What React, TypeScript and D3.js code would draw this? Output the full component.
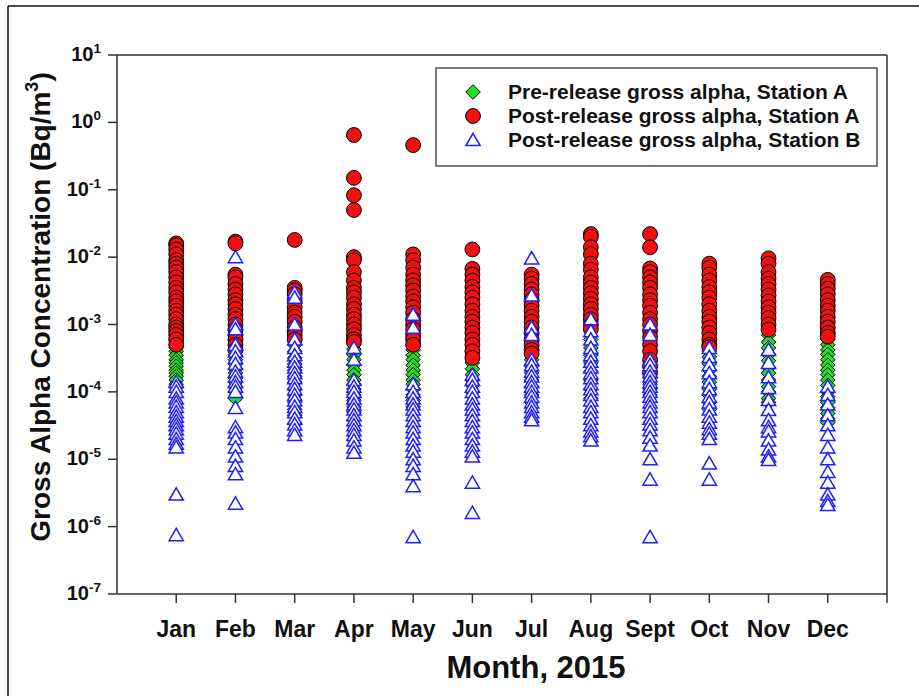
import React from "react";
import * as d3 from "d3";

const months = ["Jan", "Feb", "Mar", "Apr", "May", "Jun", "Jul", "Aug", "Sept", "Oct", "Nov", "Dec"];
const yTickExponents = [1, 0, -1, -2, -3, -4, -5, -6, -7];

// Pre-release gross alpha, Station A (Bq/m3), per month
const preReleaseA: number[][] = [
  [8e-4, 7e-4, 6e-4, 5e-4, 4.5e-4, 4e-4, 3.5e-4, 3e-4, 2.7e-4, 2.4e-4, 2.1e-4, 1.9e-4, 1.7e-4, 1.5e-4, 1.3e-4, 1.2e-4],
  [6e-4, 5e-4, 4.2e-4, 3.5e-4, 3e-4, 2.6e-4, 2.2e-4, 1.9e-4, 1.6e-4, 1.4e-4, 1.2e-4, 1e-4, 8e-5],
  [6e-4, 5e-4, 4e-4, 3.2e-4, 2.6e-4, 2.1e-4, 1.7e-4, 1.4e-4, 1.1e-4, 9e-5, 7e-5, 5.5e-5, 4.5e-5, 3.4e-5],
  [5e-4, 4.3e-4, 3.6e-4, 3e-4, 2.5e-4, 2.1e-4, 1.8e-4, 1.5e-4, 1.3e-4, 1.1e-4, 9e-5, 7.5e-5, 6e-5, 5e-5],
  [6e-4, 5e-4, 4.2e-4, 3.5e-4, 3e-4, 2.5e-4, 2.1e-4, 1.8e-4, 1.5e-4, 1.3e-4, 1.1e-4, 9e-5, 7.5e-5, 6e-5],
  [5e-4, 4e-4, 3.3e-4, 2.7e-4, 2.2e-4, 1.8e-4, 1.5e-4, 1.25e-4, 1e-4],
  [3e-4, 2.4e-4, 1.9e-4, 1.5e-4, 1.2e-4, 9e-5, 7e-5],
  [6e-4, 4.5e-4, 3.5e-4, 2.7e-4, 2e-4, 1.5e-4, 1.1e-4, 8e-5],
  [2.8e-4, 2.3e-4, 1.9e-4, 1.6e-4, 1.3e-4, 1.1e-4, 9e-5],
  [4e-4, 3.3e-4, 2.6e-4, 2.1e-4, 1.7e-4, 1.4e-4, 1.1e-4, 9e-5, 7e-5, 5.5e-5],
  [7e-4, 5.5e-4, 4.5e-4, 3.6e-4, 2.9e-4, 2.3e-4, 1.9e-4, 1.5e-4, 1.2e-4, 1e-4, 8e-5, 7e-5],
  [7e-4, 6e-4, 5e-4, 4.2e-4, 3.6e-4, 3e-4, 2.5e-4, 2.1e-4, 1.8e-4, 1.5e-4, 1.25e-4, 1e-4, 8.5e-5, 7e-5, 5.8e-5, 4.8e-5, 4e-5, 3.5e-5],
];

// Post-release gross alpha, Station A
const postReleaseA: number[][] = [
  [1.6e-2, 1.5e-2, 1.3e-2, 1.1e-2, 9e-3, 8e-3, 7e-3, 6e-3, 5e-3, 4.2e-3, 3.5e-3, 3e-3, 2.5e-3, 2.2e-3, 1.9e-3, 1.6e-3, 1.4e-3, 1.2e-3, 1e-3, 9e-4, 8e-4, 7e-4, 6e-4, 5e-4],
  [1.7e-2, 1.6e-2, 5.5e-3, 5e-3, 4e-3, 3.3e-3, 2.8e-3, 2.3e-3, 2e-3, 1.7e-3, 1.4e-3, 1.2e-3, 1e-3, 8.5e-4, 7e-4, 6e-4, 5e-4, 4.2e-4],
  [1.8e-2, 3.5e-3, 3.2e-3, 2.8e-3, 2.2e-3, 1.8e-3, 1.5e-3, 1.3e-3, 1.1e-3, 9e-4, 8e-4, 7e-4, 6e-4],
  [0.65, 0.15, 0.083, 0.05, 1e-2, 9e-3, 6e-3, 4.5e-3, 3.5e-3, 3e-3, 2.5e-3, 2e-3, 1.7e-3, 1.4e-3, 1.2e-3, 1e-3, 8.5e-4, 7e-4, 6e-4, 5.5e-4],
  [0.46, 1.1e-2, 9e-3, 7e-3, 5.5e-3, 4.5e-3, 3.8e-3, 3.2e-3, 2.6e-3, 2.2e-3, 1.8e-3, 1.5e-3, 1.2e-3, 1e-3, 8.5e-4, 7e-4, 6e-4, 5e-4],
  [1.3e-2, 6.7e-3, 5.5e-3, 4.5e-3, 3.6e-3, 3e-3, 2.5e-3, 2e-3, 1.6e-3, 1.3e-3, 1.1e-3, 9e-4, 7.5e-4, 6e-4, 5e-4, 4e-4, 3.2e-4],
  [5.5e-3, 4.8e-3, 4e-3, 3.3e-3, 2.8e-3, 2.3e-3, 1.9e-3, 1.6e-3, 1.3e-3, 1.1e-3, 9e-4, 7.5e-4, 6e-4, 5e-4, 4.2e-4, 3.7e-4],
  [2.2e-2, 2e-2, 1.4e-2, 1.1e-2, 8e-3, 6.5e-3, 5e-3, 4.2e-3, 3.5e-3, 2.9e-3, 2.4e-3, 2e-3, 1.7e-3, 1.4e-3, 1.2e-3, 1e-3, 8.5e-4],
  [2.2e-2, 1.4e-2, 6.8e-3, 6e-3, 5e-3, 4.2e-3, 3.5e-3, 2.8e-3, 2.3e-3, 1.9e-3, 1.5e-3, 1.2e-3, 1e-3, 8e-4, 6.5e-4, 5e-4, 4e-4, 3e-4, 2.4e-4, 1.9e-4],
  [8e-3, 7e-3, 5.5e-3, 4.5e-3, 3.6e-3, 3e-3, 2.5e-3, 2e-3, 1.6e-3, 1.3e-3, 1.1e-3, 9e-4, 7.5e-4, 6e-4, 5e-4, 4.6e-4],
  [9.6e-3, 8e-3, 6e-3, 4.8e-3, 4e-3, 3.3e-3, 2.7e-3, 2.2e-3, 1.8e-3, 1.5e-3, 1.25e-3, 1e-3, 8.4e-4],
  [4.6e-3, 4e-3, 3.4e-3, 2.8e-3, 2.3e-3, 1.9e-3, 1.6e-3, 1.3e-3, 1.1e-3, 9e-4, 7.5e-4, 6.6e-4],
];

// Post-release gross alpha, Station B
const postReleaseB: number[][] = [
  [1.4e-4, 1.2e-4, 1e-4, 8e-5, 7e-5, 6e-5, 5e-5, 4.3e-5, 3.7e-5, 3.2e-5, 2.8e-5, 2.4e-5, 2e-5, 1.7e-5, 1.5e-5, 3e-6, 7.5e-7],
  [1e-2, 1e-3, 8.5e-4, 5e-4, 4e-4, 3.2e-4, 2.6e-4, 2e-4, 1.7e-4, 1.4e-4, 1.2e-4, 1e-4, 5.8e-5, 3e-5, 2.5e-5, 2e-5, 1.5e-5, 1.1e-5, 8e-6, 6e-6, 2.2e-6],
  [3e-3, 2.5e-3, 1e-3, 6e-4, 4.5e-4, 3.5e-4, 2.8e-4, 2.3e-4, 1.9e-4, 1.6e-4, 1.3e-4, 1.1e-4, 9e-5, 7.5e-5, 6e-5, 5e-5, 4e-5, 3.3e-5, 2.7e-5, 2.3e-5],
  [4.5e-4, 3e-4, 1.5e-4, 1.2e-4, 1e-4, 8e-5, 6.5e-5, 5.5e-5, 4.5e-5, 3.8e-5, 3.2e-5, 2.7e-5, 2.3e-5, 1.9e-5, 1.5e-5, 1.25e-5],
  [1.4e-3, 9e-4, 1.3e-4, 1e-4, 8e-5, 6.5e-5, 5.5e-5, 4.5e-5, 3.7e-5, 3e-5, 2.5e-5, 2e-5, 1.6e-5, 1.3e-5, 1e-5, 8e-6, 6e-6, 4e-6, 7e-7],
  [1.8e-4, 1.5e-4, 1.2e-4, 1e-4, 8e-5, 6.5e-5, 5.5e-5, 4.5e-5, 3.7e-5, 3e-5, 2.5e-5, 2e-5, 1.6e-5, 1.3e-5, 1.1e-5, 4.5e-6, 1.6e-6],
  [9.6e-3, 2.7e-3, 9e-4, 7e-4, 3e-4, 2.5e-4, 2e-4, 1.7e-4, 1.4e-4, 1.2e-4, 1e-4, 8.5e-5, 7e-5, 6e-5, 5e-5, 4.3e-5, 3.8e-5],
  [1.2e-3, 8e-4, 6e-4, 4.5e-4, 3.5e-4, 2.8e-4, 2.3e-4, 1.9e-4, 1.6e-4, 1.3e-4, 1.1e-4, 9e-5, 7.5e-5, 6e-5, 5e-5, 4e-5, 3.2e-5, 2.6e-5, 2.2e-5, 1.9e-5],
  [1e-3, 7e-4, 3e-4, 2.5e-4, 2e-4, 1.7e-4, 1.4e-4, 1.2e-4, 1e-4, 8.5e-5, 7e-5, 6e-5, 5e-5, 4e-5, 3.3e-5, 2.7e-5, 2.1e-5, 1.6e-5, 1e-5, 5e-6, 7e-7],
  [4.5e-4, 3.3e-4, 2.5e-4, 1.9e-4, 1.4e-4, 1.1e-4, 8.5e-5, 7e-5, 5.5e-5, 4.3e-5, 3.5e-5, 2.8e-5, 2.4e-5, 2e-5, 8.7e-6, 5e-6],
  [4.2e-4, 2.7e-4, 1.65e-4, 1.15e-4, 7.6e-5, 5.4e-5, 3.8e-5, 3e-5, 2.6e-5, 1.9e-5, 1.4e-5, 1.1e-5, 9.8e-6],
  [1.2e-4, 9e-5, 6.5e-5, 4.5e-5, 3.2e-5, 2.3e-5, 1.5e-5, 1e-5, 6.5e-6, 4.5e-6, 3e-6, 2.4e-6, 2.1e-6],
];

const legendLabels = [
  "Pre-release gross alpha, Station A",
  "Post-release gross alpha, Station A",
  "Post-release gross alpha, Station B",
];

const GREEN = "#22e022";
const RED = "#f01010";
const BLUE = "#1f1fff";
const AXIS = "#333";
const FONT = "Liberation Sans, Arial, Helvetica, sans-serif";

const W = 919;
const H = 696;
const left = 117, right = 887, top = 55, bottom = 594;

const x = d3.scaleLinear().domain([0, 13]).range([left, right]);
const y = d3.scaleLog().domain([1e-7, 10]).range([bottom, top]);

const diamond = d3.symbol().type(d3.symbolDiamond2).size(135)() as string;
const triangle = d3.symbol().type(d3.symbolTriangle2).size(145)() as string;

function flatten(arr: number[][]) {
  const out: { m: number; v: number }[] = [];
  arr.forEach((vals, i) => vals.forEach((v) => out.push({ m: i + 1, v })));
  return out;
}

const Diamond = ({ cx, cy }: { cx: number; cy: number }) => (
  <path d={diamond} transform={`translate(${cx},${cy})`} fill={GREEN} stroke="#000" strokeWidth={1} />
);
const Circle = ({ cx, cy }: { cx: number; cy: number }) => (
  <circle cx={cx} cy={cy} r={7.4} fill={RED} stroke="#000" strokeWidth={1} />
);
const Triangle = ({ cx, cy }: { cx: number; cy: number }) => (
  <path d={triangle} transform={`translate(${cx},${cy + 1.5})`} fill="#fff" stroke={BLUE} strokeWidth={1.5} />
);

export default function App() {
  const pre = flatten(preReleaseA);
  const postA = flatten(postReleaseA);
  const postB = flatten(postReleaseB);
  const legX = 473;
  const legRows = [92, 116, 140];
  return (
    <svg width={W} height={H} style={{ position: "absolute", left: 0, top: 0, background: "#fff" }} fontFamily={FONT}>
      <rect x={0} y={0} width={W} height={H} fill="#fff" />
      {/* figure border */}
      <line x1={8} y1={6} x2={W} y2={6} stroke="#111" strokeWidth={1.5} />
      <line x1={8} y1={6} x2={8} y2={H} stroke="#111" strokeWidth={1.5} />

      {/* axes box */}
      <g stroke={AXIS} strokeWidth={1.5} fill="none">
        <line x1={left} y1={top} x2={right} y2={top} />
        <line x1={right} y1={top} x2={right} y2={bottom} />
        <line x1={left} y1={top} x2={left} y2={bottom} />
        <line x1={left} y1={bottom} x2={right} y2={bottom} />
        {yTickExponents.map((e) => (
          <line key={e} x1={left - 9} x2={left} y1={y(Math.pow(10, e))} y2={y(Math.pow(10, e))} />
        ))}
        {d3.range(1, 14).map((m) => (
          <line key={m} x1={x(m)} x2={x(m)} y1={bottom} y2={bottom + 9} />
        ))}
      </g>

      {/* y tick labels */}
      {yTickExponents.map((e) => {
        const yy = y(Math.pow(10, e));
        return (
          <text key={e} x={101} y={yy + 6} textAnchor="end" fontWeight="bold" fontSize={20} fill="#111">
            10<tspan fontSize={13.5} dy={-8}>{e}</tspan>
          </text>
        );
      })}

      {/* x tick labels */}
      {months.map((mo, i) => (
        <text key={mo} x={x(i + 1)} y={637} textAnchor="middle" fontWeight="bold" fontSize={23} fill="#111">
          {mo}
        </text>
      ))}

      {/* axis titles */}
      <text x={536} y={678} textAnchor="middle" fontWeight="bold" fontSize={31} fill="#111">
        Month, 2015
      </text>
      <text transform={`translate(50,307) rotate(-90)`} textAnchor="middle" fontWeight="bold" fontSize={28} fill="#111">
        Gross Alpha Concentration (Bq/m<tspan fontSize={18} dy={-12}>3</tspan><tspan dy={12}>)</tspan>
      </text>

      {/* data */}
      <g>
        {pre.map((d, i) => (
          <Diamond key={"p" + i} cx={x(d.m)} cy={y(d.v)} />
        ))}
      </g>
      <g>
        {postA.map((d, i) => (
          <Circle key={"a" + i} cx={x(d.m)} cy={y(d.v)} />
        ))}
      </g>
      <g>
        {postB.map((d, i) => (
          <Triangle key={"b" + i} cx={x(d.m)} cy={y(d.v)} />
        ))}
      </g>

      {/* legend */}
      <rect x={436} y={68} width={441} height={98} fill="#fff" stroke={AXIS} strokeWidth={1.3} />
      <Diamond cx={legX} cy={legRows[0]} />
      <Circle cx={legX} cy={legRows[1]} />
      <Triangle cx={legX} cy={legRows[2]} />
      {legendLabels.map((l, i) => (
        <text key={l} x={508} y={legRows[i] + 7} fontWeight="bold" fontSize={21} fill="#111">
          {l}
        </text>
      ))}
    </svg>
  );
}
